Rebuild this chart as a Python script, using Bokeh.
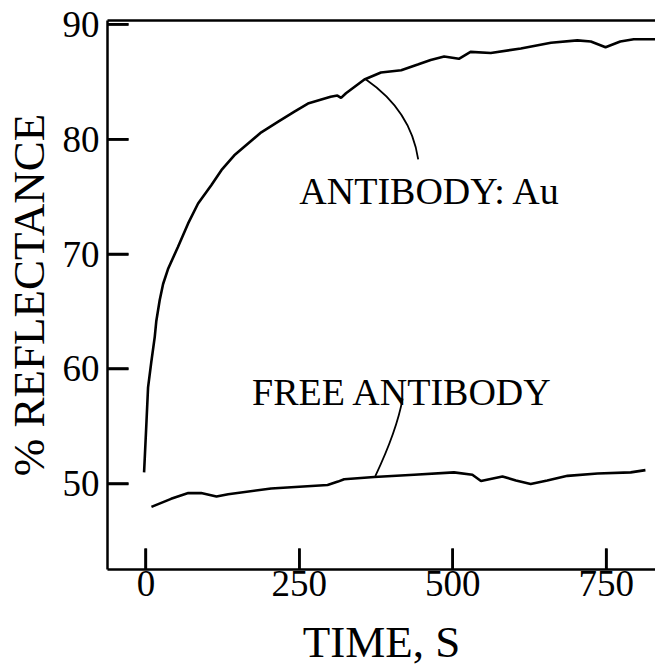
from bokeh.plotting import figure
from bokeh.models import Range1d, LinearAxis, FixedTicker
from bokeh.core.properties import value
from bokeh.embed import file_html
from bokeh.resources import INLINE

# ---- data ----
au_time = [-3, 1, 3.5, 9, 14.4, 17, 22.5, 28, 36, 52, 68.6, 85, 106.5, 123, 144,
           166, 188, 215, 242, 264, 301, 312, 318, 326, 356, 383, 416, 443, 464,
           486, 510, 529, 562, 611, 660, 703, 725, 749, 773, 795, 830]
au_refl = [51.0, 55.5, 58.4, 60.7, 62.8, 64.2, 66.0, 67.4, 68.7, 70.6, 72.65, 74.4,
           76.0, 77.3, 78.6, 79.6, 80.6, 81.5, 82.4, 83.1, 83.7, 83.8, 83.6, 84.0,
           85.2, 85.8, 86.0, 86.5, 86.9, 87.2, 87.0, 87.6, 87.5, 87.9, 88.4, 88.6,
           88.5, 88.0, 88.5, 88.7, 88.7]

free_time = [9, 41, 69, 90, 115, 134, 204, 296, 313, 323, 372, 437, 502, 532, 546,
             581, 603, 627, 654, 687, 736, 790, 814]
free_refl = [48.0, 48.7, 49.2, 49.2, 48.9, 49.1, 49.6, 49.9, 50.2, 50.4, 50.6, 50.8,
             51.0, 50.8, 50.25, 50.65, 50.3, 50.0, 50.3, 50.7, 50.9, 51.0, 51.2]

x_ticks = [0, 250, 500, 750]
y_ticks = [50, 60, 70, 80, 90]

labels = ["ANTIBODY: Au", "FREE ANTIBODY"]
label_x = [463, 418]
label_y = [75.5, 58.0]

# leader lines (start, control, end) for the two labels
lead_x0 = [358.6, 418.3]
lead_y0 = [85.2, 57.42]
lead_cx = [431.9, 408.9]
lead_cy = [82.5, 54.64]
lead_x1 = [443.7, 373.8]
lead_y1 = [78.24, 50.68]

FONT = "Liberation Serif"
X0, X1 = -62.6, 830.4
Y0, Y1 = 42.55, 90.33
W, H = 655, 670
LEFT, RIGHT, TOP, BOTTOM = 106, 0, 20, 101
FRAME_W = W - LEFT - RIGHT
FRAME_H = H - TOP - BOTTOM
TICK_PX = 21
TICK_W = 2.5

p = figure(width=W, height=H,
           x_range=Range1d(X0, X1), y_range=Range1d(Y0, Y1),
           output_backend="svg", toolbar_location=None,
           min_border_left=LEFT, min_border_right=RIGHT, min_border_top=TOP,
           min_border_bottom=BOTTOM)
p.outline_line_color = None
p.grid.visible = False
p.background_fill_color = None
p.border_fill_color = None

for ax in (p.xaxis[0], p.yaxis[0]):
    ax.axis_line_width = 2.5
    ax.axis_line_color = "black"
    ax.major_tick_line_width = TICK_W
    ax.major_tick_line_color = "black"
    ax.major_tick_in = TICK_PX
    ax.major_tick_out = 0
    ax.minor_tick_in = 0
    ax.minor_tick_out = 0
    ax.major_label_text_font = FONT
    ax.major_label_text_font_size = "37px"
    ax.major_label_text_color = "black"
    ax.axis_label_text_font = FONT
    ax.axis_label_text_font_size = "45px"
    ax.axis_label_text_font_style = "normal"
    ax.axis_label_text_color = "black"

p.xaxis.ticker = FixedTicker(ticks=x_ticks)
p.yaxis.ticker = FixedTicker(ticks=y_ticks)
p.xaxis.axis_label = "TIME, S"
p.yaxis.axis_label = "% REFLECTANCE"
p.xaxis.major_label_standoff = 1
p.xaxis.axis_label_standoff = 18
p.yaxis.major_label_standoff = 8
p.yaxis.axis_label_standoff = 6

top = LinearAxis(ticker=FixedTicker(ticks=[]), axis_line_width=2.5,
                 major_tick_in=0, major_tick_out=0, minor_tick_in=0, minor_tick_out=0,
                 major_label_text_font_size="0px")
p.add_layout(top, "above")

# inward tick marks as glyph lines (pixel length converted to data units)
ux = (X1 - X0) / FRAME_W
uy = (Y1 - Y0) / FRAME_H
p.multi_line(xs=[[X0, X0 + TICK_PX * ux] for _ in y_ticks],
             ys=[[t, t] for t in y_ticks],
             line_color="black", line_width=TICK_W)
p.multi_line(xs=[[t, t] for t in x_ticks],
             ys=[[Y0, Y0 + TICK_PX * uy] for _ in x_ticks],
             line_color="black", line_width=TICK_W)

p.line(au_time, au_refl, line_color="black", line_width=2.6)
p.line(free_time, free_refl, line_color="black", line_width=2.6)

p.quadratic(x0=lead_x0, y0=lead_y0, x1=lead_x1, y1=lead_y1, cx=lead_cx, cy=lead_cy,
            line_color="black", line_width=1.8)

p.text(x=label_x, y=label_y, text=labels, text_font=value(FONT),
       text_font_size="38px", text_align="center", text_baseline="alphabetic",
       text_color="black")

open("out.html", "w").write(file_html(p, INLINE))
